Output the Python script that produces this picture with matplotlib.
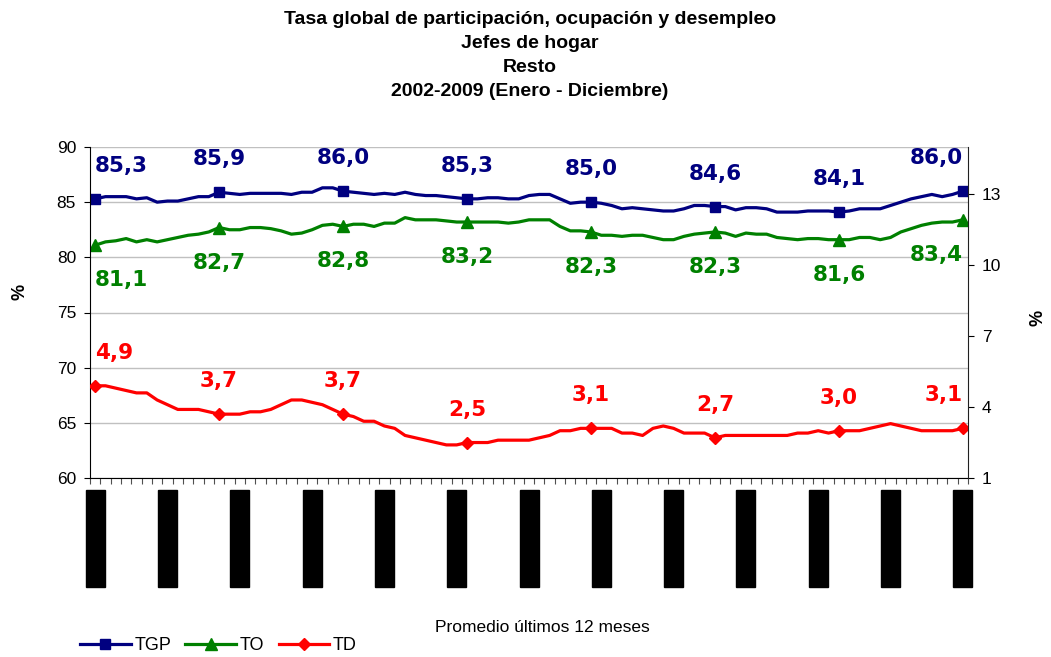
import numpy as np
import matplotlib.pyplot as plt
from matplotlib.lines import Line2D
from matplotlib.patches import Rectangle
from matplotlib.transforms import blended_transform_factory

plt.rcParams['font.family'] = ['Liberation Sans', 'DejaVu Sans']

# 12-month moving averages, Dec 2002 .. Dec 2009 (85 points)
tgp = [85.3, 85.5, 85.5, 85.5, 85.3, 85.4, 85.0, 85.1, 85.1, 85.3, 85.5, 85.5,
       85.9, 85.8, 85.7, 85.8, 85.8, 85.8, 85.8, 85.7, 85.9, 85.9, 86.3, 86.3,
       86.0, 85.9, 85.8, 85.7, 85.8, 85.7, 85.9, 85.7, 85.6, 85.6, 85.5, 85.4,
       85.3, 85.3, 85.4, 85.4, 85.3, 85.3, 85.6, 85.7, 85.7, 85.3, 84.9, 85.0,
       85.0, 84.9, 84.7, 84.4, 84.5, 84.4, 84.3, 84.2, 84.2, 84.4, 84.7, 84.7,
       84.6, 84.6, 84.3, 84.5, 84.5, 84.4, 84.1, 84.1, 84.1, 84.2, 84.2, 84.2,
       84.1, 84.2, 84.4, 84.4, 84.4, 84.7, 85.0, 85.3, 85.5, 85.7, 85.5, 85.7,
       86.0]
to = [81.1, 81.4, 81.5, 81.7, 81.4, 81.6, 81.4, 81.6, 81.8, 82.0, 82.1, 82.3,
      82.7, 82.5, 82.5, 82.7, 82.7, 82.6, 82.4, 82.1, 82.2, 82.5, 82.9, 83.0,
      82.8, 83.0, 83.0, 82.8, 83.1, 83.1, 83.6, 83.4, 83.4, 83.4, 83.3, 83.2,
      83.2, 83.2, 83.2, 83.2, 83.1, 83.2, 83.4, 83.4, 83.4, 82.8, 82.4, 82.4,
      82.3, 82.0, 82.0, 81.9, 82.0, 82.0, 81.8, 81.6, 81.6, 81.9, 82.1, 82.2,
      82.3, 82.2, 81.9, 82.2, 82.1, 82.1, 81.8, 81.7, 81.6, 81.7, 81.7, 81.6,
      81.6, 81.6, 81.8, 81.8, 81.6, 81.8, 82.3, 82.6, 82.9, 83.1, 83.2, 83.2,
      83.4]
td = [4.9, 4.9, 4.8, 4.7, 4.6, 4.6, 4.3, 4.1, 3.9, 3.9, 3.9, 3.8,
      3.7, 3.7, 3.7, 3.8, 3.8, 3.9, 4.1, 4.3, 4.3, 4.2, 4.1, 3.9,
      3.7, 3.6, 3.4, 3.4, 3.2, 3.1, 2.8, 2.7, 2.6, 2.5, 2.4, 2.4,
      2.5, 2.5, 2.5, 2.6, 2.6, 2.6, 2.6, 2.7, 2.8, 3.0, 3.0, 3.1,
      3.1, 3.1, 3.1, 2.9, 2.9, 2.8, 3.1, 3.2, 3.1, 2.9, 2.9, 2.9,
      2.7, 2.8, 2.8, 2.8, 2.8, 2.8, 2.8, 2.8, 2.9, 2.9, 3.0, 2.9,
      3.0, 3.0, 3.0, 3.1, 3.2, 3.3, 3.2, 3.1, 3.0, 3.0, 3.0, 3.0,
      3.1]
marker_idx = [0, 12, 24, 36, 48, 60, 72, 84]
label_every = 7

W, H = 1051, 657
fig = plt.figure(figsize=(W / 100, H / 100), dpi=100)
ax = fig.add_axes([90 / W, 1 - 478 / H, 878 / W, 331 / H])
ax2 = ax.twinx()

x = np.arange(len(tgp))
ax.plot(x, tgp, color='#000080', lw=2.3, marker='s', ms=7, markevery=marker_idx)
ax.plot(x, to, color='#008000', lw=2.3, marker='^', ms=8, markevery=marker_idx)
ax2.plot(x, td, color='#ff0000', lw=2.3, marker='D', ms=6.5, markevery=marker_idx)


def fmt(v):
    return f'{v:.1f}'.replace('.', ',')


def put_labels(axis, vals, color, dy):
    for k, i in enumerate(marker_idx):
        ha = 'center'
        if k == 0:
            ha = 'left'
        elif k == len(marker_idx) - 1:
            ha = 'right'
        axis.annotate(fmt(vals[i]), (x[i], vals[i]), xytext=(0, dy),
                      textcoords='offset pixels', ha=ha, va='center',
                      color=color, fontsize=15.5, fontweight='bold',
                      family='DejaVu Sans')


put_labels(ax, tgp, '#000080', 33)
put_labels(ax, to, '#008000', -35)
put_labels(ax2, td, '#ff0000', 33)

ax.set_xlim(-0.5, len(tgp) - 0.5)
ax.set_ylim(60, 90)
ax.set_yticks(range(60, 91, 5))
ax2.set_ylim(1, 15)
ax2.set_yticks([1, 4, 7, 10, 13])
ax.set_xticks(np.arange(-0.5, len(tgp), 1))
ax.set_xticklabels([])
ax.tick_params(axis='x', length=4, width=0.8, color='#505050')
ax.tick_params(axis='y', length=4, labelsize=12.5, pad=6)
ax2.tick_params(axis='y', length=4, labelsize=12.5, pad=6)
ax.yaxis.grid(True, color='#c0c0c0', lw=1)
ax.set_axisbelow(True)
for a in (ax, ax2):
    a.spines['top'].set_visible(False)
ax.spines['right'].set_visible(False)
ax2.spines['left'].set_visible(False)
ax2.spines['bottom'].set_visible(False)
ax2.spines['right'].set_color('#202020')

# category labels come out as solid black blocks in the original
tr = blended_transform_factory(ax.transData, fig.transFigure)
bw = 19 / (878 / len(tgp))
for i in range(0, len(tgp), label_every):
    fig.patches.append(Rectangle((i - bw / 2, 1 - 587 / H), bw, 97 / H,
                                 transform=tr, color='black', clip_on=False))

titles = ['Tasa global de participación, ocupación y desempleo',
          'Jefes de hogar', 'Resto', '2002-2009 (Enero - Diciembre)']
for k, t in enumerate(titles):
    fig.text(530 / W, 1 - (19 + 24 * k) / H, t, ha='center', va='center',
             fontsize=14, fontweight='bold')

fig.text(20 / W, 1 - 292 / H, '%', rotation=90, ha='center', va='center',
         fontsize=13, fontweight='bold')
fig.text(1038 / W, 1 - 318 / H, '%', rotation=90, ha='center', va='center',
         fontsize=13, fontweight='bold')
fig.text(542 / W, 1 - 627 / H, 'Promedio últimos 12 meses', ha='center',
         va='center', fontsize=12.5)

handles = [Line2D([], [], color='#000080', lw=2.3, marker='s', ms=7),
           Line2D([], [], color='#008000', lw=2.3, marker='^', ms=8),
           Line2D([], [], color='#ff0000', lw=2.3, marker='D', ms=6.5)]
fig.legend(handles, ['TGP', 'TO', 'TD'], loc='center left',
           bbox_to_anchor=(80 / W, 1 - 646 / H), ncol=3, frameon=False,
           fontsize=13, handlelength=2.8, handletextpad=0.2,
           columnspacing=0.8, borderpad=0, borderaxespad=0)

plt.savefig('out.png', dpi=100)
